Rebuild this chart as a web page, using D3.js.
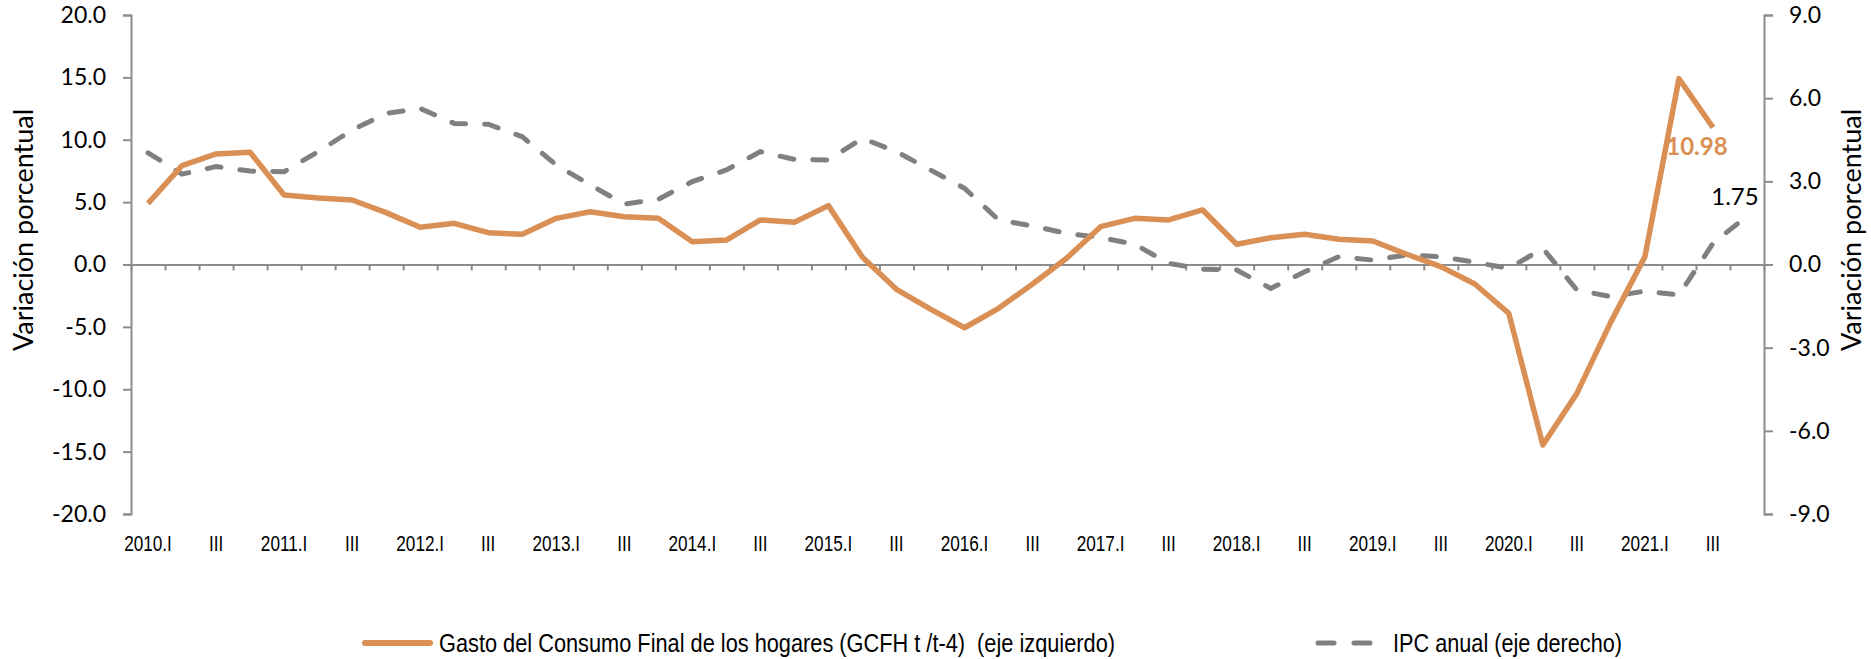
<!DOCTYPE html>
<html>
<head>
<meta charset="utf-8">
<script src="https://cdnjs.cloudflare.com/ajax/libs/d3/7.8.5/d3.min.js"></script>
<style>
  body { margin: 0; background: #fff; }
  svg { display: block; }
</style>
</head>
<body>
<svg width="1871" height="659"></svg>
<script>
// quarters 2010.I .. 2021.IV (last one only has IPC)
var quarters = ["2010.I","2010.II","2010.III","2010.IV","2011.I","2011.II","2011.III","2011.IV",
  "2012.I","2012.II","2012.III","2012.IV","2013.I","2013.II","2013.III","2013.IV",
  "2014.I","2014.II","2014.III","2014.IV","2015.I","2015.II","2015.III","2015.IV",
  "2016.I","2016.II","2016.III","2016.IV","2017.I","2017.II","2017.III","2017.IV",
  "2018.I","2018.II","2018.III","2018.IV","2019.I","2019.II","2019.III","2019.IV",
  "2020.I","2020.II","2020.III","2020.IV","2021.I","2021.II","2021.III","2021.IV"];

// shown tick labels (every second quarter)
var tickLabels = ["2010.I","","III","","2011.I","","III","","2012.I","","III","",
  "2013.I","","III","","2014.I","","III","","2015.I","","III","",
  "2016.I","","III","","2017.I","","III","","2018.I","","III","",
  "2019.I","","III","","2020.I","","III","","2021.I","","III",""];

// Gasto del Consumo Final de los hogares, variacion t/t-4 (eje izquierdo)
var gasto = [4.9, 7.92, 8.86, 9.0, 5.57, 5.33, 5.17, 4.16, 2.98, 3.3, 2.55, 2.42,
  3.7, 4.23, 3.83, 3.7, 1.83, 1.96, 3.57, 3.38, 4.72, 0.58, -1.99, -3.57,
  -5.07, -3.51, -1.56, 0.5, 3.03, 3.7, 3.57, 4.37, 1.62, 2.15, 2.42, 2.02,
  1.88, 0.82, -0.17, -1.56, -3.92, -14.47, -10.33, -4.6, 0.63, 14.9, 10.98];

// IPC anual (eje derecho)
var ipc = [4.03, 3.26, 3.53, 3.37, 3.35, 4.07, 4.85, 5.45, 5.63, 5.09, 5.06, 4.61,
  3.59, 2.87, 2.18, 2.35, 2.99, 3.41, 4.07, 3.79, 3.77, 4.55, 4.07, 3.41,
  2.75, 1.61, 1.39, 1.12, 0.97, 0.73, 0.04, -0.17, -0.2, -0.86, -0.26, 0.28,
  0.16, 0.34, 0.28, 0.08, -0.14, 0.58, -0.92, -1.16, -0.96, -1.1, 0.76, 1.75];

var leftTicks = [-20, -15, -10, -5, 0, 5, 10, 15, 20];
var rightTicks = [-9, -6, -3, 0, 3, 6, 9];

var svg = d3.select("svg");
var orange = "#DA8F55", grey = "#808080", axisGrey = "#8c8c8c";
var narrow = "'Liberation Sans Narrow','Arial Narrow','Liberation Sans',sans-serif";
var numFont = "Lato, 'Open Sans', sans-serif";

var x = d3.scaleBand().domain(quarters).range([131, 1764]).padding(0);
var yL = d3.scaleLinear().domain([-20, 20]).range([514, 15]);
var yR = d3.scaleLinear().domain([-9, 9]).range([514, 15]);
var xEdge = d3.scaleLinear().domain([0, quarters.length]).range([131, 1764]);
var fmt = function(d) { return d.toFixed(1); };

// squeeze text like a narrow font (no Arial Narrow here)
function squeeze(sel, k) {
  sel.each(function() {
    var len = this.getComputedTextLength();
    if (len > 0) {
      d3.select(this).attr("textLength", len * k).attr("lengthAdjust", "spacingAndGlyphs");
    }
  });
}

// left axis
var gl = svg.append("g").attr("transform", "translate(131,0)")
  .call(d3.axisLeft(yL).tickValues(leftTicks).tickSize(8).tickPadding(17).tickFormat(fmt));
// right axis
var gr = svg.append("g").attr("transform", "translate(1764,0)")
  .call(d3.axisRight(yR).tickValues(rightTicks).tickSize(9).tickPadding(16).tickFormat(fmt));
[gl, gr].forEach(function(g) {
  g.selectAll("path, line").attr("stroke", axisGrey).attr("stroke-width", 2);
  g.selectAll("text").attr("font-family", numFont).attr("font-size", 23).attr("fill", "#000");
});

// category axis on zero line, ticks at band edges
var gx = svg.append("g").attr("transform", "translate(0," + yL(0) + ")")
  .call(d3.axisBottom(xEdge).tickValues(d3.range(0, quarters.length + 1)).tickSize(6).tickSizeOuter(0).tickFormat(""));
gx.selectAll("path, line").attr("stroke", axisGrey).attr("stroke-width", 2);

svg.append("g").selectAll("text")
  .data(quarters)
  .enter().append("text")
  .attr("x", function(d) { return x(d) + x.bandwidth() / 2; })
  .attr("y", 551)
  .attr("text-anchor", "middle")
  .attr("font-family", narrow)
  .attr("font-size", 22)
  .text(function(d, i) { return tickLabels[i]; })
  .call(squeeze, 0.78);

// axis titles
svg.append("text")
  .attr("transform", "translate(33,230) rotate(-90)")
  .attr("text-anchor", "middle")
  .attr("font-family", numFont).attr("font-size", 27)
  .text("Variación porcentual");
svg.append("text")
  .attr("transform", "translate(1861,230) rotate(-90)")
  .attr("text-anchor", "middle")
  .attr("font-family", numFont).attr("font-size", 27)
  .text("Variación porcentual");

// lines
var lineL = d3.line()
  .x(function(d, i) { return x(quarters[i]) + x.bandwidth() / 2; })
  .y(function(d) { return yL(d); });
var lineR = d3.line()
  .x(function(d, i) { return x(quarters[i]) + x.bandwidth() / 2; })
  .y(function(d) { return yR(d); });

svg.append("path").datum(ipc)
  .attr("d", lineR)
  .attr("fill", "none")
  .attr("stroke", grey)
  .attr("stroke-width", 5)
  .attr("stroke-linecap", "round")
  .attr("stroke-dasharray", "14,19");

svg.append("path").datum(gasto)
  .attr("d", lineL)
  .attr("fill", "none")
  .attr("stroke", orange)
  .attr("stroke-width", 5.5)
  .attr("stroke-linejoin", "round");

// value labels
var lastG = gasto.length - 1, lastI = ipc.length - 1;
svg.append("text")
  .attr("x", x(quarters[lastG]) + x.bandwidth() / 2 - 16)
  .attr("y", yL(gasto[lastG]) + 27)
  .attr("text-anchor", "middle")
  .attr("font-family", numFont).attr("font-size", 24).attr("font-weight", "bold")
  .attr("fill", orange)
  .text(gasto[lastG].toFixed(2));
svg.append("text")
  .attr("x", x(quarters[lastI]) + x.bandwidth() / 2 - 12)
  .attr("y", yR(ipc[lastI]) - 11)
  .attr("text-anchor", "middle")
  .attr("font-family", numFont).attr("font-size", 24)
  .attr("fill", "#000")
  .text(ipc[lastI].toFixed(2));

// legend
var leg = svg.append("g");
leg.append("line").attr("x1", 365).attr("x2", 430).attr("y1", 643).attr("y2", 643)
  .attr("stroke", orange).attr("stroke-width", 6).attr("stroke-linecap", "round");
leg.append("text").attr("x", 439).attr("y", 652)
  .attr("font-family", narrow).attr("font-size", 25)
  .style("white-space", "pre")
  .attr("textLength", 676).attr("lengthAdjust", "spacingAndGlyphs")
  .text("Gasto del Consumo Final de los hogares (GCFH t /t-4)  (eje izquierdo)");
leg.append("line").attr("x1", 1318).attr("x2", 1370).attr("y1", 643).attr("y2", 643)
  .attr("stroke", grey).attr("stroke-width", 5).attr("stroke-linecap", "round")
  .attr("stroke-dasharray", "16,20");
leg.append("text").attr("x", 1393).attr("y", 652)
  .attr("font-family", narrow).attr("font-size", 25)
  .attr("textLength", 229).attr("lengthAdjust", "spacingAndGlyphs")
  .text("IPC anual (eje derecho)");
</script>
</body>
</html>
